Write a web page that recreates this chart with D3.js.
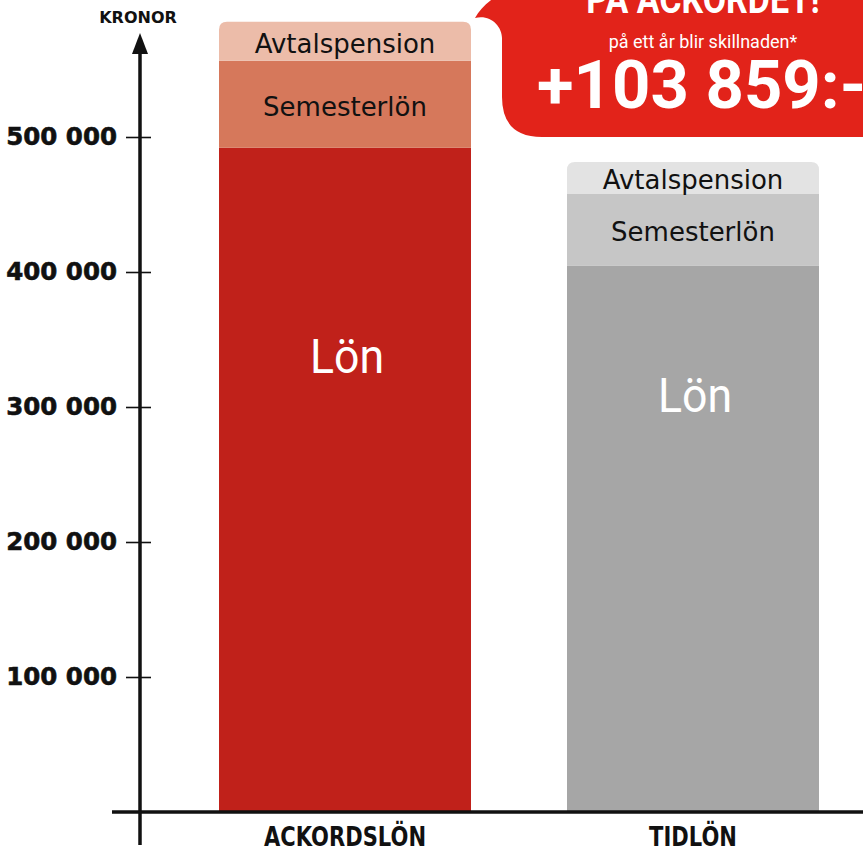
<!DOCTYPE html>
<html>
<head>
<meta charset="utf-8">
<script src="https://cdn.jsdelivr.net/npm/d3@7"></script>
<style>
  html, body { margin: 0; padding: 0; background: #fff; }
  svg { display: block; }
</style>
</head>
<body>
<div id="chart"></div>
<script>
// data
const categories = ["ACKORDSLÖN", "TIDLÖN"];
const segments = ["Lön", "Semesterlön", "Avtalspension"];
const lon = [492000, 404500];
const semesterlon = [64500, 53300];
const avtalspension = [28800, 23600];
const lonLabelAt = [338000, 309000];   // where the big "Lön" sits, in kronor
const yTicks = [100000, 200000, 300000, 400000, 500000];
const calloutTitle = "PÅ ACKORDET!";
const calloutSub = "på ett år blir skillnaden*";
const calloutValue = "+103 859:-";

const colors = {
    "ACKORDSLÖN": ["#c0211a", "#d6785b", "#ecbca9"],
    "TIDLÖN": ["#a6a6a6", "#c6c6c6", "#e3e3e3"]
};

const width = 863, height = 848;

const svg = d3.select("#chart")
    .append("svg")
    .attr("width", width)
    .attr("height", height);

const x = d3.scaleBand()
    .domain(categories)
    .range([171, 867])
    .paddingInner(96 / 348)
    .paddingOuter(48 / 348);

const y = d3.scaleLinear()
    .domain([0, 500000])
    .range([812, 137]);

const fmt = d3.formatLocale({decimal: ",", thousands: " ", grouping: [3], currency: ["", ""]}).format(",");

// stack data
const rows = categories.map((c, i) => ({cat: c, "Lön": lon[i], "Semesterlön": semesterlon[i], "Avtalspension": avtalspension[i]}));
const stacked = d3.stack().keys(segments)(rows);

const bars = svg.append("g");
const r = 8;

stacked.forEach((layer, li) => {
    const isTop = li === segments.length - 1;
    layer.forEach(d => {
        const cat = d.data.cat;
        const x0 = x(cat), x1 = x(cat) + x.bandwidth();
        const yTop = y(d[1]), yBot = y(d[0]);
        const fill = colors[cat][li];
        if (isTop) {
            bars.append("path")
                .attr("fill", fill)
                .attr("d", `M${x0},${yBot} L${x0},${yTop + r} Q${x0},${yTop} ${x0 + r},${yTop} L${x1 - r},${yTop} Q${x1},${yTop} ${x1},${yTop + r} L${x1},${yBot} Z`);
        } else {
            bars.append("rect")
                .attr("x", x0).attr("y", yTop)
                .attr("width", x.bandwidth()).attr("height", yBot - yTop)
                .attr("fill", fill);
        }
        // labels
        const cx = x0 + x.bandwidth() / 2;
        if (li === 0) {
            const ci = categories.indexOf(cat);
            bars.append("text")
                .attr("transform", `translate(${cx + 2},${y(lonLabelAt[ci])}) scale(0.93,1)`)
                .attr("dy", "0.36em")
                .attr("text-anchor", "middle")
                .attr("fill", "#fff")
                .style("font-family", "Roboto, sans-serif")
                .style("font-size", "48px")
                .text(layer.key);
        } else {
            bars.append("text")
                .attr("x", cx)
                .attr("y", (yTop + yBot) / 2 + 2)
                .attr("dy", "0.36em")
                .attr("text-anchor", "middle")
                .attr("fill", "#111")
                .style("font-family", "'DejaVu Sans', sans-serif")
                .style("font-size", "26px")
                .text(layer.key);
        }
    });
});

// y axis
const axisX = 140;
const yAxis = svg.append("g")
    .attr("transform", `translate(${axisX},0)`)
    .call(d3.axisLeft(y).tickValues(yTicks).tickFormat(fmt).tickSize(14).tickPadding(8));
yAxis.select(".domain").remove();
yAxis.selectAll(".tick line")
    .attr("x1", 11)
    .attr("x2", -14)
    .attr("stroke", "#111")
    .attr("stroke-width", 1.6);
yAxis.selectAll(".tick text")
    .attr("x", -23)
    .attr("fill", "#111")
    .attr("stroke", "#111")
    .attr("stroke-width", 0.6)
    .style("font-family", "'DejaVu Sans', sans-serif")
    .style("font-weight", "bold")
    .style("font-size", "24.5px");

svg.append("line")
    .attr("x1", axisX).attr("x2", axisX)
    .attr("y1", 845).attr("y2", 50)
    .attr("stroke", "#111").attr("stroke-width", 3.5);
svg.append("path")
    .attr("d", `M${axisX},33 L${axisX + 8},54 L${axisX - 8},54 Z`)
    .attr("fill", "#111");
svg.append("text")
    .attr("x", axisX - 2).attr("y", 23)
    .attr("text-anchor", "middle")
    .attr("fill", "#111")
    .style("font-family", "'DejaVu Sans', sans-serif")
    .style("font-weight", "bold")
    .style("font-size", "16px")
    .text("KRONOR");

// baseline
svg.append("line")
    .attr("x1", 112).attr("x2", width)
    .attr("y1", y(0)).attr("y2", y(0))
    .attr("stroke", "#111").attr("stroke-width", 3.5);

// category labels
svg.append("g").selectAll("text")
    .data(categories)
    .join("text")
    .attr("transform", d => `translate(${x(d) + x.bandwidth() / 2},846) scale(0.78,1)`)
    .attr("text-anchor", "middle")
    .attr("fill", "#111")
    .style("font-family", "'DejaVu Sans', sans-serif")
    .style("font-weight", "bold")
    .style("font-size", "27px")
    .text(d => d);

// callout bubble
const callout = svg.append("g");
callout.append("path")
    .attr("fill", "#e2231a")
    .attr("d", "M475,18 C482,6 495,-8 520,-10 L880,-10 L880,137 L542,137 Q502,137 502,97 L502,38 C502,26 490,14 475,18 Z");
callout.append("text")
    .attr("transform", "translate(703,13) scale(0.85,1)")
    .attr("text-anchor", "middle")
    .attr("fill", "#fff")
    .style("font-family", "Roboto, sans-serif")
    .style("font-weight", "bold")
    .style("font-size", "40px")
    .text(calloutTitle);
callout.append("text")
    .attr("x", 703).attr("y", 48)
    .attr("text-anchor", "middle")
    .attr("fill", "#fff")
    .style("font-family", "Roboto, sans-serif")
    .style("font-size", "18px")
    .text(calloutSub);
callout.append("text")
    .attr("x", 537).attr("y", 108)
    .attr("fill", "#fff")
    .style("font-family", "Roboto, sans-serif")
    .style("font-weight", "bold")
    .style("font-size", "67px")
    .text(calloutValue);
</script>
</body>
</html>
